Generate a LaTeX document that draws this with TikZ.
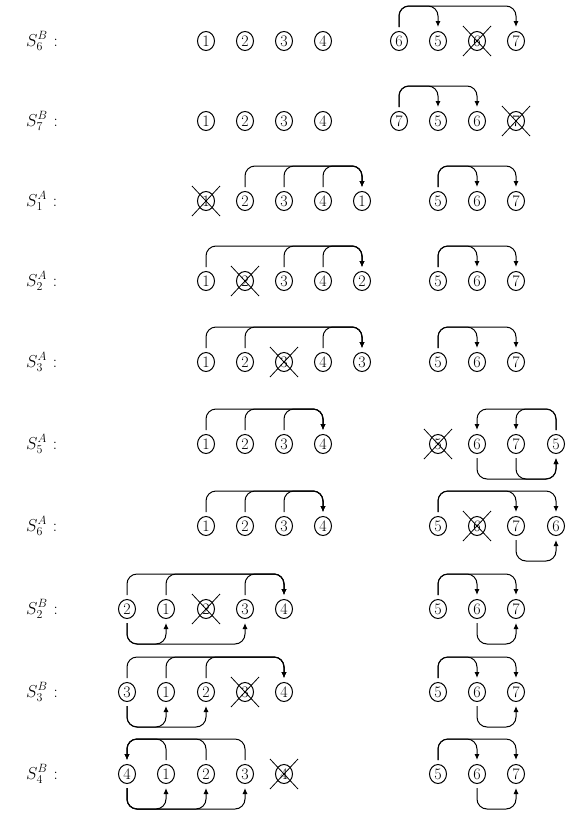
\documentclass[tikz,border=0pt]{standalone}
\usetikzlibrary{arrows.meta,shapes.geometric}
\expandafter\def\csname xc0\endcsname{127}
\expandafter\def\csname xc1\endcsname{166}
\expandafter\def\csname xc2\endcsname{206}
\expandafter\def\csname xc3\endcsname{245}
\expandafter\def\csname xc4\endcsname{284}
\expandafter\def\csname xc5\endcsname{323}
\expandafter\def\csname xc6\endcsname{362}
\expandafter\def\csname xc7\endcsname{399}
\expandafter\def\csname xc8\endcsname{438}
\expandafter\def\csname xc9\endcsname{477}
\expandafter\def\csname xc10\endcsname{516}
\expandafter\def\csname xc11\endcsname{556}
\expandafter\def\csname yr1\endcsname{41}
\expandafter\def\csname yr2\endcsname{121}
\expandafter\def\csname yr3\endcsname{201}
\expandafter\def\csname yr4\endcsname{281}
\expandafter\def\csname yr5\endcsname{362}
\expandafter\def\csname yr6\endcsname{444}
\expandafter\def\csname yr7\endcsname{526}
\expandafter\def\csname yr8\endcsname{609}
\expandafter\def\csname yr9\endcsname{692}
\expandafter\def\csname yr10\endcsname{774}
\newcommand\cnode[3]{\node[num] (r#1n#2) at (\csname xc#2\endcsname,\csname yr#1\endcsname) {#3};}
\newcommand\xnode[3]{\cnode{#1}{#2}{#3}%
  \draw[xout] ([shift={(-14pt,15pt)}]r#1n#2.center) -- ([shift={(14pt,-15pt)}]r#1n#2.center);%
  \draw[xout] ([shift={(-14pt,-15pt)}]r#1n#2.center) -- ([shift={(14pt,15pt)}]r#1n#2.center);}
\newcommand\rowlabel[3]{\node[lab] (L#1) at (26,\csname yr#1\endcsname) {$S^{#2}_{#3}$\hspace{6pt}:};}
\newcommand\ov[3]{\draw[over] (r#1n#2) to (r#1n#3);}
\newcommand\un[3]{\draw[under] (r#1n#2) to (r#1n#3);}
\tikzset{
  num/.style={ellipse,draw,line width=1pt,minimum width=17pt,minimum height=19pt,inner sep=0pt,
    font=\fontsize{16}{18}\selectfont},
  xout/.style={line width=0.8pt},
  lab/.style={anchor=west,inner sep=0pt,font=\fontsize{17}{20}\selectfont},
  conn/.style={line width=1pt,rounded corners=10pt,-{Latex[length=6pt,width=5pt]}},
  over/.style={conn,to path={([yshift=4pt]\tikztostart.north) -- ([yshift=25pt]\tikztostart.north) -| ([yshift=4pt]\tikztotarget.north)}},
  under/.style={conn,to path={([yshift=-4pt]\tikztostart.south) -- ([yshift=-25pt]\tikztostart.south) -| ([yshift=-4pt]\tikztotarget.south)}},
}
\begin{document}
\begin{tikzpicture}[x=1pt,y=-1pt]
\useasboundingbox (0,0) rectangle (572,833);
% row 1
\rowlabel{1}{B}{6}
\cnode{1}{2}{1}\cnode{1}{3}{2}\cnode{1}{4}{3}\cnode{1}{5}{4}
\cnode{1}{7}{6}\cnode{1}{8}{5}\xnode{1}{9}{6}\cnode{1}{10}{7}
\ov{1}{7}{8}\ov{1}{7}{10}
% row 2
\rowlabel{2}{B}{7}
\cnode{2}{2}{1}\cnode{2}{3}{2}\cnode{2}{4}{3}\cnode{2}{5}{4}
\cnode{2}{7}{7}\cnode{2}{8}{5}\cnode{2}{9}{6}\xnode{2}{10}{7}
\ov{2}{7}{8}\ov{2}{7}{9}
% row 3
\rowlabel{3}{A}{1}
\xnode{3}{2}{1}\cnode{3}{3}{2}\cnode{3}{4}{3}\cnode{3}{5}{4}\cnode{3}{6}{1}
\cnode{3}{8}{5}\cnode{3}{9}{6}\cnode{3}{10}{7}
\ov{3}{3}{6}\ov{3}{4}{6}\ov{3}{5}{6}\ov{3}{8}{9}\ov{3}{8}{10}
% row 4
\rowlabel{4}{A}{2}
\cnode{4}{2}{1}\xnode{4}{3}{2}\cnode{4}{4}{3}\cnode{4}{5}{4}\cnode{4}{6}{2}
\cnode{4}{8}{5}\cnode{4}{9}{6}\cnode{4}{10}{7}
\ov{4}{2}{6}\ov{4}{4}{6}\ov{4}{5}{6}\ov{4}{8}{9}\ov{4}{8}{10}
% row 5
\rowlabel{5}{A}{3}
\cnode{5}{2}{1}\cnode{5}{3}{2}\xnode{5}{4}{3}\cnode{5}{5}{4}\cnode{5}{6}{3}
\cnode{5}{8}{5}\cnode{5}{9}{6}\cnode{5}{10}{7}
\ov{5}{2}{6}\ov{5}{3}{6}\ov{5}{5}{6}\ov{5}{8}{9}\ov{5}{8}{10}
% row 6
\rowlabel{6}{A}{5}
\cnode{6}{2}{1}\cnode{6}{3}{2}\cnode{6}{4}{3}\cnode{6}{5}{4}
\xnode{6}{8}{5}\cnode{6}{9}{6}\cnode{6}{10}{7}\cnode{6}{11}{5}
\ov{6}{2}{5}\ov{6}{3}{5}\ov{6}{4}{5}\ov{6}{11}{9}\ov{6}{11}{10}
\un{6}{9}{11}\un{6}{10}{11}
% row 7
\rowlabel{7}{A}{6}
\cnode{7}{2}{1}\cnode{7}{3}{2}\cnode{7}{4}{3}\cnode{7}{5}{4}
\cnode{7}{8}{5}\xnode{7}{9}{6}\cnode{7}{10}{7}\cnode{7}{11}{6}
\ov{7}{2}{5}\ov{7}{3}{5}\ov{7}{4}{5}\ov{7}{8}{10}\ov{7}{8}{11}
\un{7}{10}{11}
% row 8
\rowlabel{8}{B}{2}
\cnode{8}{0}{2}\cnode{8}{1}{1}\xnode{8}{2}{2}\cnode{8}{3}{3}\cnode{8}{4}{4}
\cnode{8}{8}{5}\cnode{8}{9}{6}\cnode{8}{10}{7}
\ov{8}{0}{4}\ov{8}{1}{4}\ov{8}{3}{4}\un{8}{0}{1}\un{8}{0}{3}
\ov{8}{8}{9}\ov{8}{8}{10}\un{8}{9}{10}
% row 9
\rowlabel{9}{B}{3}
\cnode{9}{0}{3}\cnode{9}{1}{1}\cnode{9}{2}{2}\xnode{9}{3}{3}\cnode{9}{4}{4}
\cnode{9}{8}{5}\cnode{9}{9}{6}\cnode{9}{10}{7}
\ov{9}{0}{4}\ov{9}{1}{4}\ov{9}{2}{4}\un{9}{0}{1}\un{9}{0}{2}
\ov{9}{8}{9}\ov{9}{8}{10}\un{9}{9}{10}
% row 10
\rowlabel{10}{B}{4}
\cnode{10}{0}{4}\cnode{10}{1}{1}\cnode{10}{2}{2}\cnode{10}{3}{3}\xnode{10}{4}{4}
\cnode{10}{8}{5}\cnode{10}{9}{6}\cnode{10}{10}{7}
\ov{10}{1}{0}\ov{10}{2}{0}\ov{10}{3}{0}\un{10}{0}{1}\un{10}{0}{2}\un{10}{0}{3}
\ov{10}{8}{9}\ov{10}{8}{10}\un{10}{9}{10}
\end{tikzpicture}
\end{document}
